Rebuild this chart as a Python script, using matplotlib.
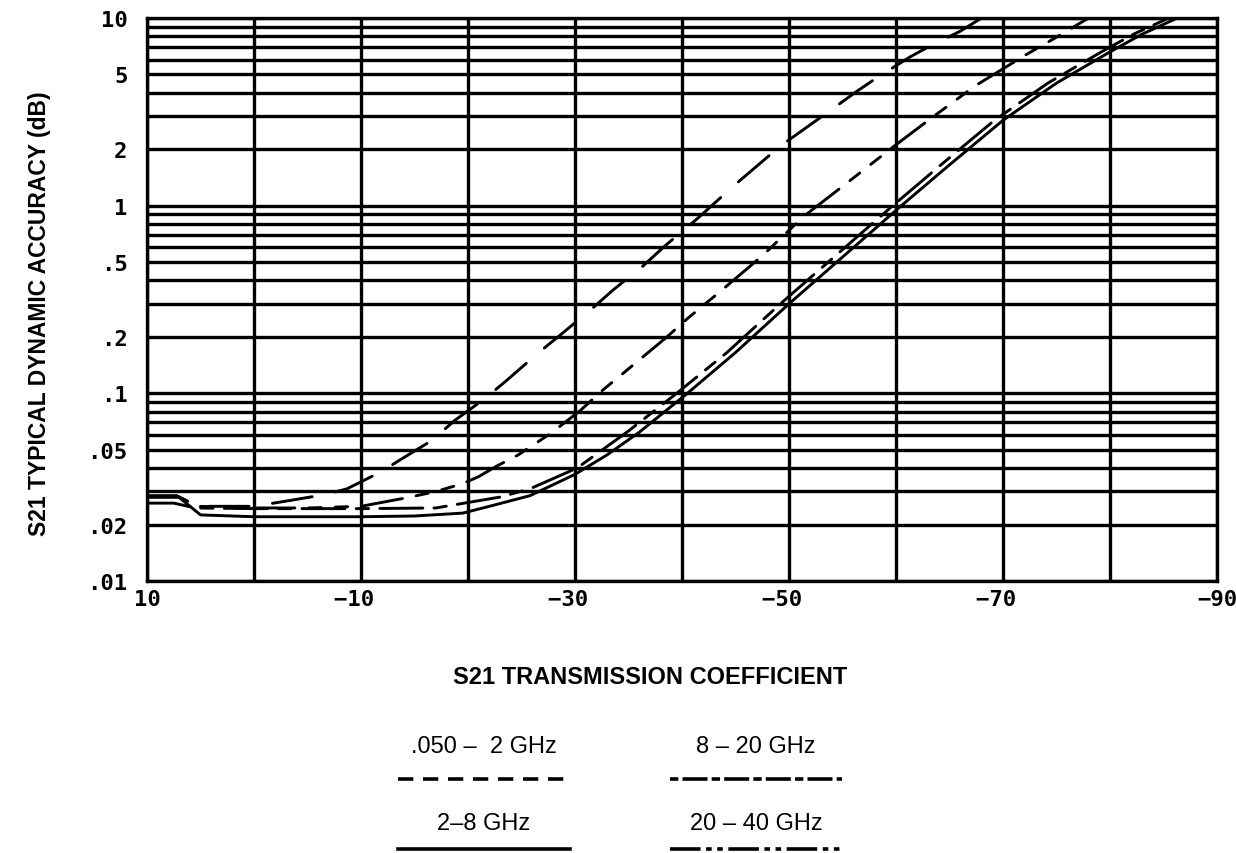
import matplotlib
matplotlib.use("Agg")
import matplotlib.pyplot as plt
from matplotlib.lines import Line2D

plt.rcParams['lines.scale_dashes'] = False

# ---------------- data ----------------
# .050 - 2 GHz (long dashes)
x_050_2 = [10, 7, 5.2, 0, -3.6, -6.8, -8.7, -11.8, -13.6, -16.6, -18.8, -21.6, -23.6,
           -26.5, -28.6, -31.6, -33.6, -36.3, -38.4, -41.4, -45, -49.2, -53.4, -56.4,
           -58.2, -61.3, -63.2, -66, -68]
y_050_2 = [0.028, 0.028, 0.025, 0.025, 0.027, 0.029, 0.031, 0.038, 0.044, 0.056, 0.072,
           0.094, 0.117, 0.163, 0.204, 0.283, 0.357, 0.474, 0.61, 0.85, 1.3, 2.08, 3.08,
           4.09, 4.8, 6.2, 7.1, 8.5, 10]

# 20 - 40 GHz (long-short-short)
x_20_40 = [10, 7, 5.2, 0, -5, -10, -14.6, -17, -19.5, -21, -22.7, -24.7, -27.7, -30.5,
           -32.5, -35.4, -38.6, -40.5, -43.6, -47.5, -51.3, -55.7, -59.7, -63.2, -67.4,
           -72.2, -75, -78]
y_20_40 = [0.028, 0.028, 0.025, 0.0245, 0.0245, 0.025, 0.028, 0.030, 0.033, 0.036, 0.041,
           0.047, 0.061, 0.081, 0.103, 0.141, 0.2, 0.25, 0.35, 0.54, 0.87, 1.36, 2.05,
           2.9, 4.35, 6.4, 7.9, 10]

# 8 - 20 GHz (long-short)
x_8_20 = [10, 7.5, 5.5, 0, -10, -17, -20.5, -23, -25.8, -30.2, -35, -39.5, -44.2, -49.2,
          -54, -59.7, -64.2, -69.2, -74.2, -79.2, -82.2, -85.5]
y_8_20 = [0.026, 0.026, 0.0245, 0.0243, 0.0243, 0.0245, 0.0265, 0.028, 0.031, 0.040,
          0.063, 0.1, 0.165, 0.3, 0.52, 1.0, 1.65, 2.85, 4.5, 6.6, 8.2, 10]

# 2 - 8 GHz (solid)
x_2_8 = [10, 7.2, 5.0, 0, -10, -15, -19.5, -22, -25.8, -30, -33, -36, -40.5, -45, -50,
         -54.8, -60.5, -65, -70, -75, -80, -83, -86.3]
y_2_8 = [0.0285, 0.0285, 0.0225, 0.022, 0.022, 0.0222, 0.023, 0.025, 0.0285, 0.037,
         0.047, 0.062, 0.1, 0.165, 0.3, 0.52, 1.0, 1.65, 2.85, 4.5, 6.6, 8.2, 10]

X_GRID = [10, 0, -10, -20, -30, -40, -50, -60, -70, -80, -90]
X_LABELED = [10, -10, -30, -50, -70, -90]
Y_LABELS = {0.01: ".01", 0.02: ".02", 0.05: ".05", 0.1: ".1", 0.2: ".2", 0.5: ".5",
            1: "1", 2: "2", 5: "5", 10: "10"}
LEGEND_LABELS = [".050 –  2 GHz", "8 – 20 GHz", "2–8 GHz", "20 – 40 GHz"]

X_LABEL = "S21 TRANSMISSION COEFFICIENT"
Y_LABEL = "S21 TYPICAL DYNAMIC ACCURACY (dB)"

# ---------------- figure ----------------
W, H = 1236, 854
fig = plt.figure(figsize=(W / 100, H / 100), dpi=100)
L, R, T, B = 147, 1217, 19, 582
ax = fig.add_axes([L / W, 1 - B / H, (R - L) / W, (B - T) / H])
ax.set_yscale('log')
ax.set_xlim(10, -90)
ax.set_ylim(0.01, 10)

GRID_LW = 2.4
y_grid = [m * 10.0 ** e for e in (-2, -1, 0) for m in range(1, 10)] + [10.0]
ax.set_yticks(y_grid)
ax.yaxis.set_minor_locator(matplotlib.ticker.NullLocator())
ylabels = []
for v in y_grid:
    lab = ""
    for k, s in Y_LABELS.items():
        if abs(v - k) / k < 1e-6:
            lab = s
    ylabels.append(lab)
ax.set_yticklabels(ylabels)

ax.set_xticks(X_GRID)
xlabels = []
for v in X_GRID:
    if v in X_LABELED:
        if v < 0 and v != X_GRID[-1]:
            xlabels.append("−%d " % abs(v))
        elif v < 0:
            xlabels.append("−%d" % abs(v))
        else:
            xlabels.append("%d" % v)
    else:
        xlabels.append("")
ax.set_xticklabels(xlabels)

ax.grid(True, which='major', color='black', lw=GRID_LW)
ax.set_axisbelow(True)
for sp in ax.spines.values():
    sp.set_linewidth(GRID_LW)
    sp.set_color('black')
ax.tick_params(length=0)
for t in ax.get_xticklabels() + ax.get_yticklabels():
    t.set_fontfamily('DejaVu Sans Mono')
    t.set_fontweight('bold')
    t.set_fontsize(16)
ax.tick_params(axis='y', pad=14)
ax.tick_params(axis='x', pad=6)

CURVE_LW = 2.1
ax.plot(x_050_2, y_050_2, color='black', lw=CURVE_LW, dashes=(29, 17),
        dash_capstyle='round')
ax.plot(x_20_40, y_20_40, color='black', lw=CURVE_LW, dashes=(30, 10, 9, 10, 9, 10),
        dash_capstyle='round')
ax.plot(x_8_20, y_8_20, color='black', lw=CURVE_LW, dashes=(31, 8, 9, 8),
        dash_capstyle='round')
ax.plot(x_2_8, y_2_8, color='black', lw=CURVE_LW, solid_capstyle='round')

# axis labels
fig.text(650 / W, 1 - 678 / H, X_LABEL, ha='center', va='center',
         fontfamily='Liberation Sans', fontweight='bold', fontsize=17)
fig.text(40 / W, 1 - 314 / H, Y_LABEL, ha='center', va='center', rotation=90,
         fontfamily='Liberation Sans', fontweight='bold', fontsize=16.5)

# legend (2 x 2, text above line sample)
col_x = [484, 756]
txt_y = [747, 824]
line_y = [780, 850]
half = 86
styles = [dict(dashes=(11, 7)), dict(dashes=(6, 3, 18, 3)),
          dict(linestyle='-'), dict(dashes=(22, 4, 4, 4, 4, 4))]
for i, lab in enumerate(LEGEND_LABELS):
    c, r = i % 2, i // 2
    fig.text(col_x[c] / W, 1 - txt_y[r] / H, lab, ha='center', va='center',
             fontfamily='Liberation Sans', fontsize=17)
    ln = Line2D([(col_x[c] - half) / W, (col_x[c] + half) / W],
                [1 - line_y[r] / H, 1 - line_y[r] / H],
                transform=fig.transFigure, color='black', lw=2.6, **styles[i])
    fig.add_artist(ln)

fig.savefig("out.png", dpi=100)
